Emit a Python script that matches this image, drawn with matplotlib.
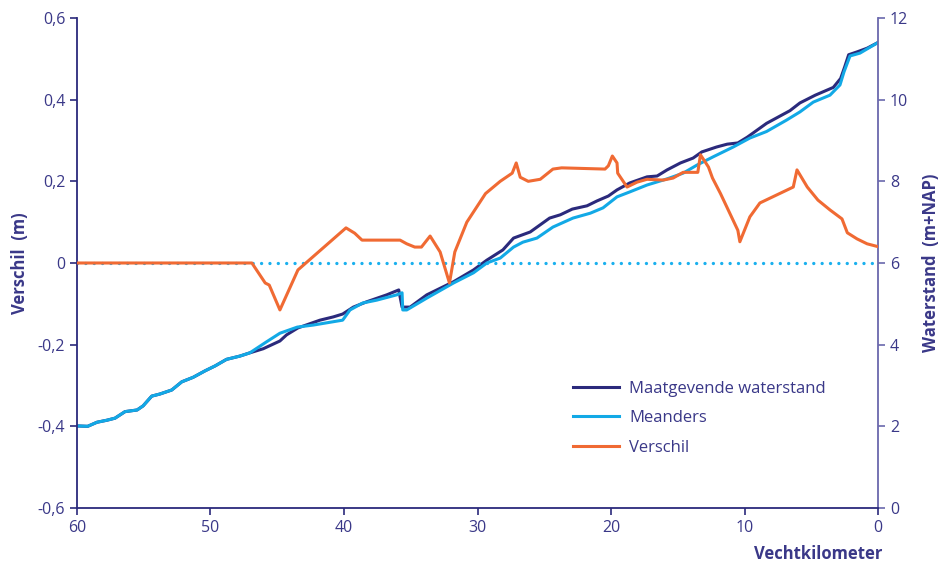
import matplotlib.pyplot as plt

# Vechtkilometer (x-as loopt van 60 naar 0)
km_mgw = [60, 59.2, 58.5, 57.75, 57.15, 56.4, 55.5, 55.05, 54.4, 53.8, 52.9, 52.15, 51.3,
          50.4, 49.65, 48.8, 47.8, 47.05, 46.05, 44.8, 44.3, 43.45, 41.8, 40.8, 40.1,
          39.3, 38.3, 36.8, 35.9, 35.65, 35.05, 33.8, 31.8, 30.3, 29.3, 28.1, 27.3,
          26.05, 24.6, 23.8, 22.9, 21.8, 21.05, 20.2, 19.55, 18.6, 17.3, 16.55, 15.8,
          14.8, 13.85, 13.2, 12.1, 11.3, 10.5, 9.8, 8.35, 6.6, 5.85, 4.7, 3.35, 2.8,
          2.5, 2.2, 1.57, 0.82, 0.0]
mgw = [2.01, 2.0, 2.1, 2.15, 2.2, 2.36, 2.4, 2.5, 2.74, 2.79, 2.89, 3.09, 3.2,
       3.36, 3.48, 3.64, 3.72, 3.8, 3.9, 4.09, 4.24, 4.41, 4.6, 4.68, 4.75,
       4.92, 5.05, 5.22, 5.34, 4.92, 4.92, 5.22, 5.54, 5.83, 6.07, 6.32, 6.61,
       6.76, 7.1, 7.18, 7.32, 7.4, 7.52, 7.64, 7.79, 7.96, 8.11, 8.13, 8.28,
       8.45, 8.57, 8.72, 8.84, 8.91, 8.94, 9.08, 9.42, 9.73, 9.92, 10.11, 10.3, 10.52,
       10.8, 11.1, 11.17, 11.26, 11.4]

km_mea = [60, 59.2, 58.5, 57.75, 57.15, 56.4, 55.5, 55.05, 54.4, 53.8, 52.9, 52.15, 51.3,
          50.4, 49.65, 48.8, 47.8, 47.05, 45.8, 44.8, 43.5, 42.3, 40.1, 39.55, 38.6,
          37.55, 36.05, 35.65, 35.6, 35.3, 33.8, 31.8, 30.3, 29.3, 28.3, 27.3, 26.6,
          25.55, 24.35, 22.85, 21.55, 20.6, 19.55, 18.6, 17.3, 15.8, 14.6, 13.55,
          12.35, 10.85, 9.6, 8.35, 6.85, 5.85, 4.85, 3.6, 2.85, 2.55, 2.1, 1.35, 0.0]
meanders = [2.01, 2.0, 2.1, 2.15, 2.2, 2.36, 2.4, 2.5, 2.74, 2.79, 2.89, 3.09, 3.2,
            3.36, 3.48, 3.64, 3.72, 3.8, 4.07, 4.28, 4.43, 4.48, 4.6, 4.85, 5.02,
            5.09, 5.22, 5.27, 4.85, 4.85, 5.14, 5.51, 5.76, 6.0, 6.12, 6.39, 6.51,
            6.61, 6.88, 7.1, 7.22, 7.35, 7.62, 7.74, 7.91, 8.06, 8.2, 8.4,
            8.6, 8.84, 9.06, 9.22, 9.5, 9.7, 9.94, 10.11, 10.36, 10.68, 11.07, 11.14, 11.4]

km_ver = [60, 46.9, 45.9, 45.6, 44.8, 43.45, 39.85, 39.2, 38.65, 35.8, 35.3, 34.7, 34.2,
          33.55, 32.8, 32.1, 31.7, 30.8, 29.4, 28.3, 27.4, 27.1, 26.8, 26.2, 25.3,
          24.35, 23.7, 20.45, 20.2, 19.9, 19.55, 19.5, 18.8, 18.05, 17.3, 16.1, 15.35,
          14.6, 13.5, 13.3, 12.7, 12.4, 11.8, 10.5, 10.35, 9.6, 8.85, 6.35, 6.07,
          5.3, 4.5, 3.6, 2.7, 2.3, 1.57, 0.82, 0.0]
verschil = [0.0, 0.0, -0.049, -0.054, -0.115, -0.017, 0.086, 0.073, 0.056, 0.056, 0.047, 0.039, 0.039,
            0.066, 0.027, -0.049, 0.027, 0.10, 0.17, 0.20, 0.22, 0.245, 0.21, 0.20, 0.205,
            0.23, 0.233, 0.23, 0.238, 0.262, 0.245, 0.22, 0.186, 0.198, 0.205, 0.203, 0.208,
            0.222, 0.222, 0.265, 0.235, 0.208, 0.17, 0.08, 0.052, 0.113, 0.147, 0.186, 0.228,
            0.186, 0.154, 0.13, 0.108, 0.074, 0.059, 0.047, 0.04]

navy = '#2b2a7c'
lightblue = '#12a9e6'
orange = '#f06a33'
textcol = '#3a3888'

plt.rcParams['font.family'] = ['Open Sans', 'DejaVu Sans']

fig = plt.figure(figsize=(9.48, 5.64), dpi=100)
ax = fig.add_axes([0.0812, 0.0993, 0.845, 0.8688])
ax2 = ax.twinx()

ax.axhline(0, color='#1ab0ee', lw=2.4, ls=(0, (0.01, 2.5)), dash_capstyle='round', zorder=1)
l3, = ax.plot(km_ver, verschil, color=orange, lw=2.2, zorder=3, label='Verschil')
l1, = ax2.plot(km_mgw, mgw, color=navy, lw=2.2, label='Maatgevende waterstand')
l2, = ax2.plot(km_mea, meanders, color=lightblue, lw=2.2, label='Meanders')
ax.set_zorder(ax2.get_zorder() + 1)
ax.patch.set_visible(False)

ax.set_xlim(60, 0)
ax.set_ylim(-0.6, 0.6)
ax2.set_ylim(0, 12)
ax.set_xticks([60, 50, 40, 30, 20, 10, 0])
ax.set_yticks([-0.6, -0.4, -0.2, 0, 0.2, 0.4, 0.6])
ax.set_yticklabels(['-0,6', '-0,4', '-0,2', '0', '0,2', '0,4', '0,6'])
ax2.set_yticks([0, 2, 4, 6, 8, 10, 12])

for a in (ax, ax2):
    a.spines['top'].set_visible(False)
ax.spines['left'].set_color(navy)
ax.spines['bottom'].set_color(navy)
ax.spines['right'].set_visible(False)
ax2.spines['left'].set_visible(False)
ax2.spines['bottom'].set_visible(False)
ax2.spines['right'].set_color('#6a68ad')
for s in ('left', 'bottom'):
    ax.spines[s].set_linewidth(1.3)
ax2.spines['right'].set_linewidth(1.3)

ax.tick_params(colors=navy, labelcolor=textcol, labelsize=11.5, length=5, width=1.2)
ax2.tick_params(colors='#6a68ad', labelcolor=textcol, labelsize=11.5, length=5, width=1.2)

ax.set_ylabel('Verschil  (m)', color=textcol, fontsize=12, fontweight='bold', labelpad=6)
ax2.set_ylabel('Waterstand  (m+NAP)', color=textcol, fontsize=12, fontweight='bold', labelpad=10)
ax.set_xlabel('Vechtkilometer', color=textcol, fontsize=12, fontweight='bold', ha='right')
ax.xaxis.set_label_coords(1.005, -0.075)

leg = ax.legend([l1, l2, l3], ['Maatgevende waterstand', 'Meanders', 'Verschil'],
                loc='upper left', bbox_to_anchor=(0.6, 0.29), frameon=False,
                fontsize=12, handlelength=2.8, handletextpad=0.6, labelspacing=0.8)
for t in leg.get_texts():
    t.set_color(textcol)

fig.savefig('out.png', dpi=100)
